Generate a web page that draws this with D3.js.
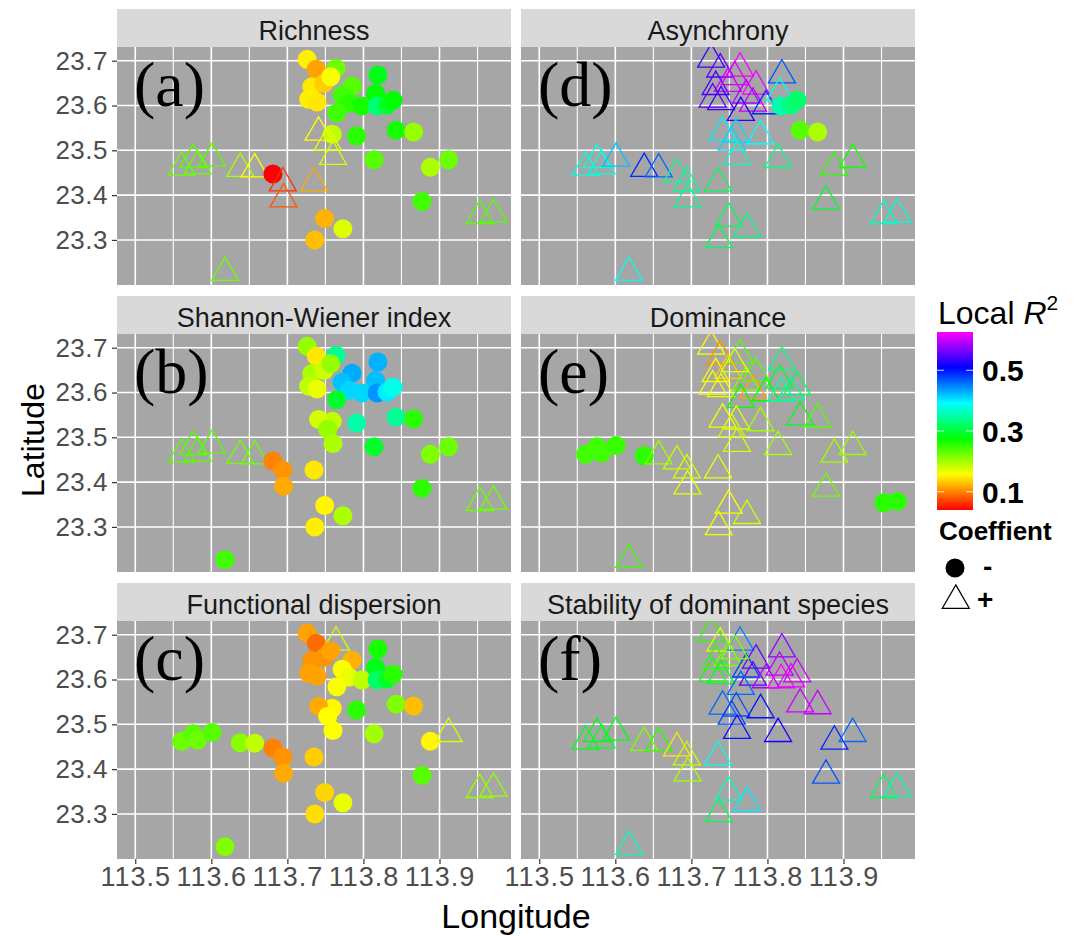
<!DOCTYPE html>
<html><head><meta charset="utf-8">
<script src="https://cdn.jsdelivr.net/npm/d3@7"></script>
<style>
body{margin:0;background:#fff}
svg{display:block}
text{font-family:"Liberation Sans",Arial,Helvetica,sans-serif}
text.tag{font-family:"Liberation Serif","Times New Roman",serif}
</style>
</head><body>
<svg id="chart" width="1079" height="936"></svg>
<script>
// ---- data: sampling sites (longitude / latitude) ----
const lon = [113.726,113.738,113.764,113.819,113.732,113.748,113.728,113.739,113.785,113.772,
             113.781,113.798,113.816,113.818,113.831,113.839,113.765,113.759,113.791,113.843,
             113.866,113.741,113.753,113.760,113.814,113.888,113.912,113.877,113.561,113.576,
             113.582,113.601,113.638,113.657,113.681,113.694,113.695,113.735,113.749,113.773,
             113.736,113.618,113.953,113.971,113.757];
const lat = [23.703,23.681,23.683,23.668,23.642,23.649,23.614,23.608,23.643,23.623,
             23.605,23.599,23.627,23.599,23.601,23.612,23.584,23.536,23.532,23.545,
             23.541,23.540,23.518,23.486,23.479,23.462,23.479,23.386,23.462,23.479,
             23.465,23.482,23.459,23.458,23.447,23.427,23.391,23.427,23.348,23.325,
             23.300,23.227,23.354,23.357,23.664];

// ---- local R2 per panel ----
const r2Richness = [0.15,0.115,0.225,0.285,0.147,0.134,0.15,0.147,0.235,0.245,0.255,0.265,0.275,0.33,0.294,0.275,0.245,0.186,0.255,0.265,0.205,0.157,0.167,0.177,0.235,0.196,0.225,0.245,0.225,0.235,0.225,0.235,0.196,0.157,0.04,0.063,0.08,0.118,0.122,0.173,0.128,0.225,0.235,0.235,0.16];
const r2Shannon = [0.206,0.147,0.343,0.427,0.196,0.18,0.186,0.167,0.43,0.42,0.41,0.41,0.42,0.44,0.40,0.382,0.294,0.186,0.353,0.343,0.255,0.177,0.206,0.196,0.294,0.216,0.225,0.255,0.235,0.235,0.235,0.235,0.225,0.225,0.1,0.108,0.118,0.147,0.153,0.196,0.15,0.245,0.225,0.225,0.206];
const r2FunDisp = [0.115,0.089,0.177,0.265,0.108,0.108,0.115,0.115,0.122,0.16,0.167,0.186,0.285,0.323,0.294,0.255,0.16,0.153,0.255,0.216,0.128,0.118,0.157,0.157,0.2,0.153,0.177,0.235,0.225,0.235,0.225,0.235,0.212,0.186,0.099,0.108,0.118,0.134,0.138,0.167,0.142,0.216,0.206,0.206,0.115];
const r2Asynchrony = [0.54,0.55,0.625,0.47,0.54,0.606,0.55,0.54,0.62,0.587,0.6,0.49,0.38,0.353,0.333,0.323,0.528,0.41,0.39,0.235,0.196,0.40,0.41,0.362,0.333,0.255,0.265,0.294,0.376,0.376,0.38,0.42,0.49,0.46,0.343,0.343,0.343,0.314,0.314,0.333,0.314,0.382,0.362,0.372,0.61];
const r2Dominance = [0.16,0.108,0.235,0.333,0.16,0.134,0.16,0.165,0.235,0.216,0.115,0.275,0.294,0.353,0.343,0.314,0.275,0.17,0.2,0.285,0.235,0.165,0.18,0.177,0.2,0.2,0.206,0.225,0.245,0.245,0.245,0.25,0.255,0.206,0.185,0.175,0.17,0.165,0.16,0.18,0.165,0.245,0.255,0.255,0.17];
const r2Stability = [0.255,0.177,0.45,0.577,0.255,0.216,0.265,0.285,0.56,0.48,0.55,0.587,0.6,0.625,0.616,0.606,0.46,0.47,0.5,0.606,0.6,0.46,0.48,0.5,0.518,0.49,0.46,0.47,0.285,0.285,0.294,0.285,0.216,0.255,0.147,0.186,0.196,0.387,0.362,0.40,0.314,0.362,0.314,0.353,0.216];

// ---- coefficient sign per panel ("-" circle, "+" triangle) ----
const signRichness   = "---------------------+++----++++++-+++---+++-".split("");
const signShannon    = "----------------------------++++++--------++-".split("");
const signFunDisp    = "--+-----------------------+---------------++-".split("");
const signAsynchrony = "+++++++++++++---+++--++++++++++++++++++++++++".split("");
const signDominance  = "++++++++++++++++++++++++++++-----+++++++++--+".split("");
const signStability  = "+++++++++++++++++++++++++++++++++++++++++++++".split("");

const panelTitles = ["Richness","Shannon-Wiener index","Functional dispersion","Asynchrony","Dominance","Stability of dominant species"];
const panelTags = ["(a)","(b)","(c)","(d)","(e)","(f)"];
const panelR2 = [r2Richness,r2Shannon,r2FunDisp,r2Asynchrony,r2Dominance,r2Stability];
const panelSign = [signRichness,signShannon,signFunDisp,signAsynchrony,signDominance,signStability];

const xTicks = [113.5,113.6,113.7,113.8,113.9];
const xMinor = [113.55,113.65,113.75,113.85,113.95];
const yTicks = [23.3,23.4,23.5,23.6,23.7];
const legendTicks = [0.1,0.3,0.5];
const r2Range = [0.04,0.626];

// ---- layout ----
const svg = d3.select("#chart");
const W = 394, PH = 238, SH = 38;
const colX = [117,521], rowY = [9,296,583];

const x = d3.scaleLinear().domain([113.476,113.994]).range([0,W]);
const y = d3.scaleLinear().domain([23.1994,23.7306]).range([PH,0]);
const hue = d3.scaleLinear().domain(r2Range).range([0,300]).clamp(true);
const colour = v => d3.hsl(hue(v),1,0.5).formatHex();

const tri = d3.symbol(d3.symbolTriangle,315);

svg.append("rect").attr("width",1079).attr("height",936).attr("fill","#fff");

panelTitles.forEach((title,i)=>{
  const c = Math.floor(i/3), r = i%3;
  const px = colX[c], sy = rowY[r], py = sy+SH;
  // strip
  svg.append("rect").attr("x",px).attr("y",sy).attr("width",W).attr("height",SH).attr("fill","#d9d9d9");
  svg.append("text").attr("x",px+W/2).attr("y",sy+31).attr("text-anchor","middle")
     .attr("font-size",27).attr("fill","#1a1a1a").text(title);

  const g = svg.append("g").attr("transform",`translate(${px},${py})`);
  const cid = "clip"+i;
  g.append("clipPath").attr("id",cid).append("rect").attr("width",W).attr("height",PH);
  g.append("rect").attr("width",W).attr("height",PH).attr("fill","#a6a6a6");
  g.selectAll(".vmin").data(xMinor).enter().append("line")
    .attr("x1",d=>x(d)).attr("x2",d=>x(d)).attr("y1",0).attr("y2",PH)
    .attr("stroke","#fff").attr("stroke-width",1.1);
  g.selectAll(".vmaj").data(xTicks).enter().append("line")
    .attr("x1",d=>x(d)).attr("x2",d=>x(d)).attr("y1",0).attr("y2",PH)
    .attr("stroke","#fff").attr("stroke-width",1.6);
  g.selectAll(".hmaj").data(yTicks).enter().append("line")
    .attr("y1",d=>y(d)).attr("y2",d=>y(d)).attr("x1",0).attr("x2",W)
    .attr("stroke","#fff").attr("stroke-width",1.6);

  const pts = lon.map((lo,k)=>({lo, la:lat[k], v:panelR2[i][k], s:panelSign[i][k]}));
  const layer = g.append("g").attr("clip-path",`url(#${cid})`);
  pts.forEach(p=>{
    if(p.s==="-"){
      layer.append("circle").attr("cx",x(p.lo)).attr("cy",y(p.la)).attr("r",9.5)
        .attr("fill",colour(p.v));
    } else {
      layer.append("path").attr("d",tri).attr("transform",`translate(${x(p.lo)},${y(p.la)})`)
        .attr("fill","none").attr("stroke",colour(p.v)).attr("stroke-width",1.3);
    }
  });

  g.append("text").attr("class","tag").attr("x",17).attr("y",59)
    .attr("font-size",64).attr("fill","#000").text(panelTags[i]);

  if(c===0){
    const ax = g.append("g").call(d3.axisLeft(y).tickValues(yTicks).tickSize(5).tickPadding(4).tickFormat(d3.format(".1f")));
    ax.select(".domain").remove();
    ax.selectAll("line").attr("stroke","#333").attr("stroke-width",1.2);
    ax.selectAll("text").attr("font-size",26).attr("fill","#4d4d4d").style("letter-spacing","0.5px");
  }
  if(r===2){
    const ax = g.append("g").attr("transform",`translate(0,${PH})`)
      .call(d3.axisBottom(x).tickValues(xTicks).tickSize(5).tickPadding(3).tickFormat(d3.format(".1f")));
    ax.select(".domain").remove();
    ax.selectAll("line").attr("stroke","#333").attr("stroke-width",1.2);
    ax.selectAll("text").attr("font-size",27).attr("fill","#4d4d4d").style("letter-spacing","1px");
  }
});

// axis titles
svg.append("text").attr("x",516).attr("y",928).attr("text-anchor","middle").attr("font-size",34).attr("fill","#000").text("Longitude");
svg.append("text").attr("transform","translate(44,440) rotate(-90)").attr("text-anchor","middle").attr("font-size",32).attr("fill","#000").text("Latitude");

// ---- legend ----
const lg = svg.append("g");
const lt = lg.append("text").attr("x",938).attr("y",324).attr("font-size",32).attr("fill","#000");
lt.append("tspan").text("Local ");
lt.append("tspan").attr("font-style","italic").text("R");
lt.append("tspan").attr("dy",-14).attr("font-size",21).text("2");

const ly = d3.scaleLinear().domain(r2Range).range([510,332]);
const grad = svg.append("defs").append("linearGradient").attr("id","rb")
  .attr("x1",0).attr("y1",1).attr("x2",0).attr("y2",0);
d3.range(0,1.0001,0.05).forEach(t=>{
  const v = r2Range[0]+t*(r2Range[1]-r2Range[0]);
  grad.append("stop").attr("offset",t).attr("stop-color",colour(v));
});
lg.append("rect").attr("x",937).attr("y",332).attr("width",36).attr("height",178).attr("fill","url(#rb)");
legendTicks.forEach(t=>{
  lg.append("line").attr("x1",937).attr("x2",944).attr("y1",ly(t)).attr("y2",ly(t)).attr("stroke","#fff").attr("stroke-opacity",0.8);
  lg.append("line").attr("x1",966).attr("x2",973).attr("y1",ly(t)).attr("y2",ly(t)).attr("stroke","#fff").attr("stroke-opacity",0.8);
  lg.append("text").attr("x",982).attr("y",ly(t)).attr("dy","0.36em").attr("font-size",30).attr("font-weight","bold").attr("fill","#000").text(d3.format(".1f")(t));
});
lg.append("text").attr("x",939).attr("y",540).attr("font-size",26).attr("font-weight","bold").attr("fill","#000").text("Coeffient");
lg.append("circle").attr("cx",955).attr("cy",568).attr("r",9.5).attr("fill","#000");
lg.append("text").attr("x",983).attr("y",576).attr("font-size",28).attr("font-weight","bold").attr("fill","#000").text("-");
lg.append("path").attr("d",tri).attr("transform","translate(955.8,600.5)").attr("fill","none").attr("stroke","#000").attr("stroke-width",1.3);
lg.append("text").attr("x",977).attr("y",609).attr("font-size",28).attr("font-weight","bold").attr("fill","#000").text("+");
</script>
</body></html>
